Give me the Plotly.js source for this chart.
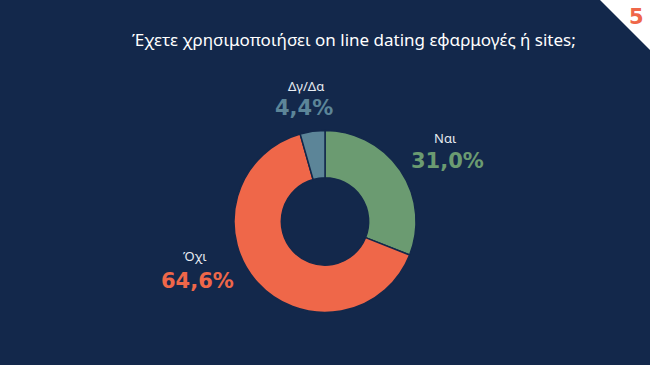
<!DOCTYPE html>
<html>
<head>
<meta charset="utf-8">
<script src="https://cdn.plot.ly/plotly-3.0.1.min.js"></script>
<style>
html,body{margin:0;padding:0;background:#13284b;}
#chart{width:650px;height:365px;}
</style>
</head>
<body>
<div id="chart"></div>
<script>
const labels = ["Ναι", "Όχι", "Δγ/Δα"];
const values = [31.0, 64.6, 4.4];
const colors = ["#6b9b71", "#ef6749", "#5c8598"];
const titleText = "Έχετε χρησιμοποιήσει on line dating εφαρμογές ή sites;";
const pageNumber = "5";

const W = 650, H = 365;
const px = x => x / W;
const py = y => 1 - y / H;

// label anchor positions (pixels)
const labelPos = [
  {lx: 445, ly: 138, vx: 447, vy: 161},
  {lx: 195, ly: 256, vx: 197, vy: 281},
  {lx: 306, ly: 86,  vx: 304, vy: 108}
];

const fmt = v => v.toFixed(1).replace(".", ",") + "%";

const annotations = [];
labels.forEach((lab, i) => {
  const p = labelPos[i];
  annotations.push({
    text: lab, x: px(p.lx), y: py(p.ly), xref: "paper", yref: "paper",
    showarrow: false, xanchor: "center", yanchor: "middle", borderpad: 0,
    font: {family: "Noto Sans, sans-serif", size: 13, color: "#e8ecf2"}
  });
  annotations.push({
    text: "<b>" + fmt(values[i]) + "</b>", x: px(p.vx), y: py(p.vy), xref: "paper", yref: "paper",
    showarrow: false, xanchor: "center", yanchor: "middle", borderpad: 0,
    font: {family: "DejaVu Sans, sans-serif", size: 21, color: colors[i]}
  });
});
annotations.push({
  text: titleText, x: px(354), y: py(39), xref: "paper", yref: "paper",
  showarrow: false, xanchor: "center", yanchor: "middle",
  font: {family: "Noto Sans, sans-serif", size: 17, color: "#ffffff"}
});
annotations.push({
  text: "<b>" + pageNumber + "</b>", x: px(636), y: py(17), xref: "paper", yref: "paper",
  showarrow: false, xanchor: "center", yanchor: "middle",
  font: {family: "DejaVu Sans, sans-serif", size: 21, color: "#ef6749"}
});

const data = [{
  type: "pie",
  labels: labels,
  values: values,
  hole: 0.48,
  sort: false,
  direction: "clockwise",
  rotation: 0,
  textinfo: "none",
  hoverinfo: "label+percent",
  marker: {colors: colors, line: {color: "#13284b", width: 1.5}},
  domain: {x: [px(234), px(416)], y: [py(313), py(130)]},
  showlegend: false
}];

const layout = {
  width: W, height: H,
  margin: {l: 0, r: 0, t: 0, b: 0},
  paper_bgcolor: "#13284b",
  plot_bgcolor: "#13284b",
  showlegend: false,
  annotations: annotations,
  shapes: [{
    type: "path", xref: "paper", yref: "paper",
    path: `M ${px(600)} ${py(0)} L ${px(650)} ${py(0)} L ${px(650)} ${py(50)} Z`,
    fillcolor: "#ffffff", line: {width: 0}, layer: "below"
  }]
};

Plotly.newPlot("chart", data, layout, {displayModeBar: false, staticPlot: true});
</script>
</body>
</html>
